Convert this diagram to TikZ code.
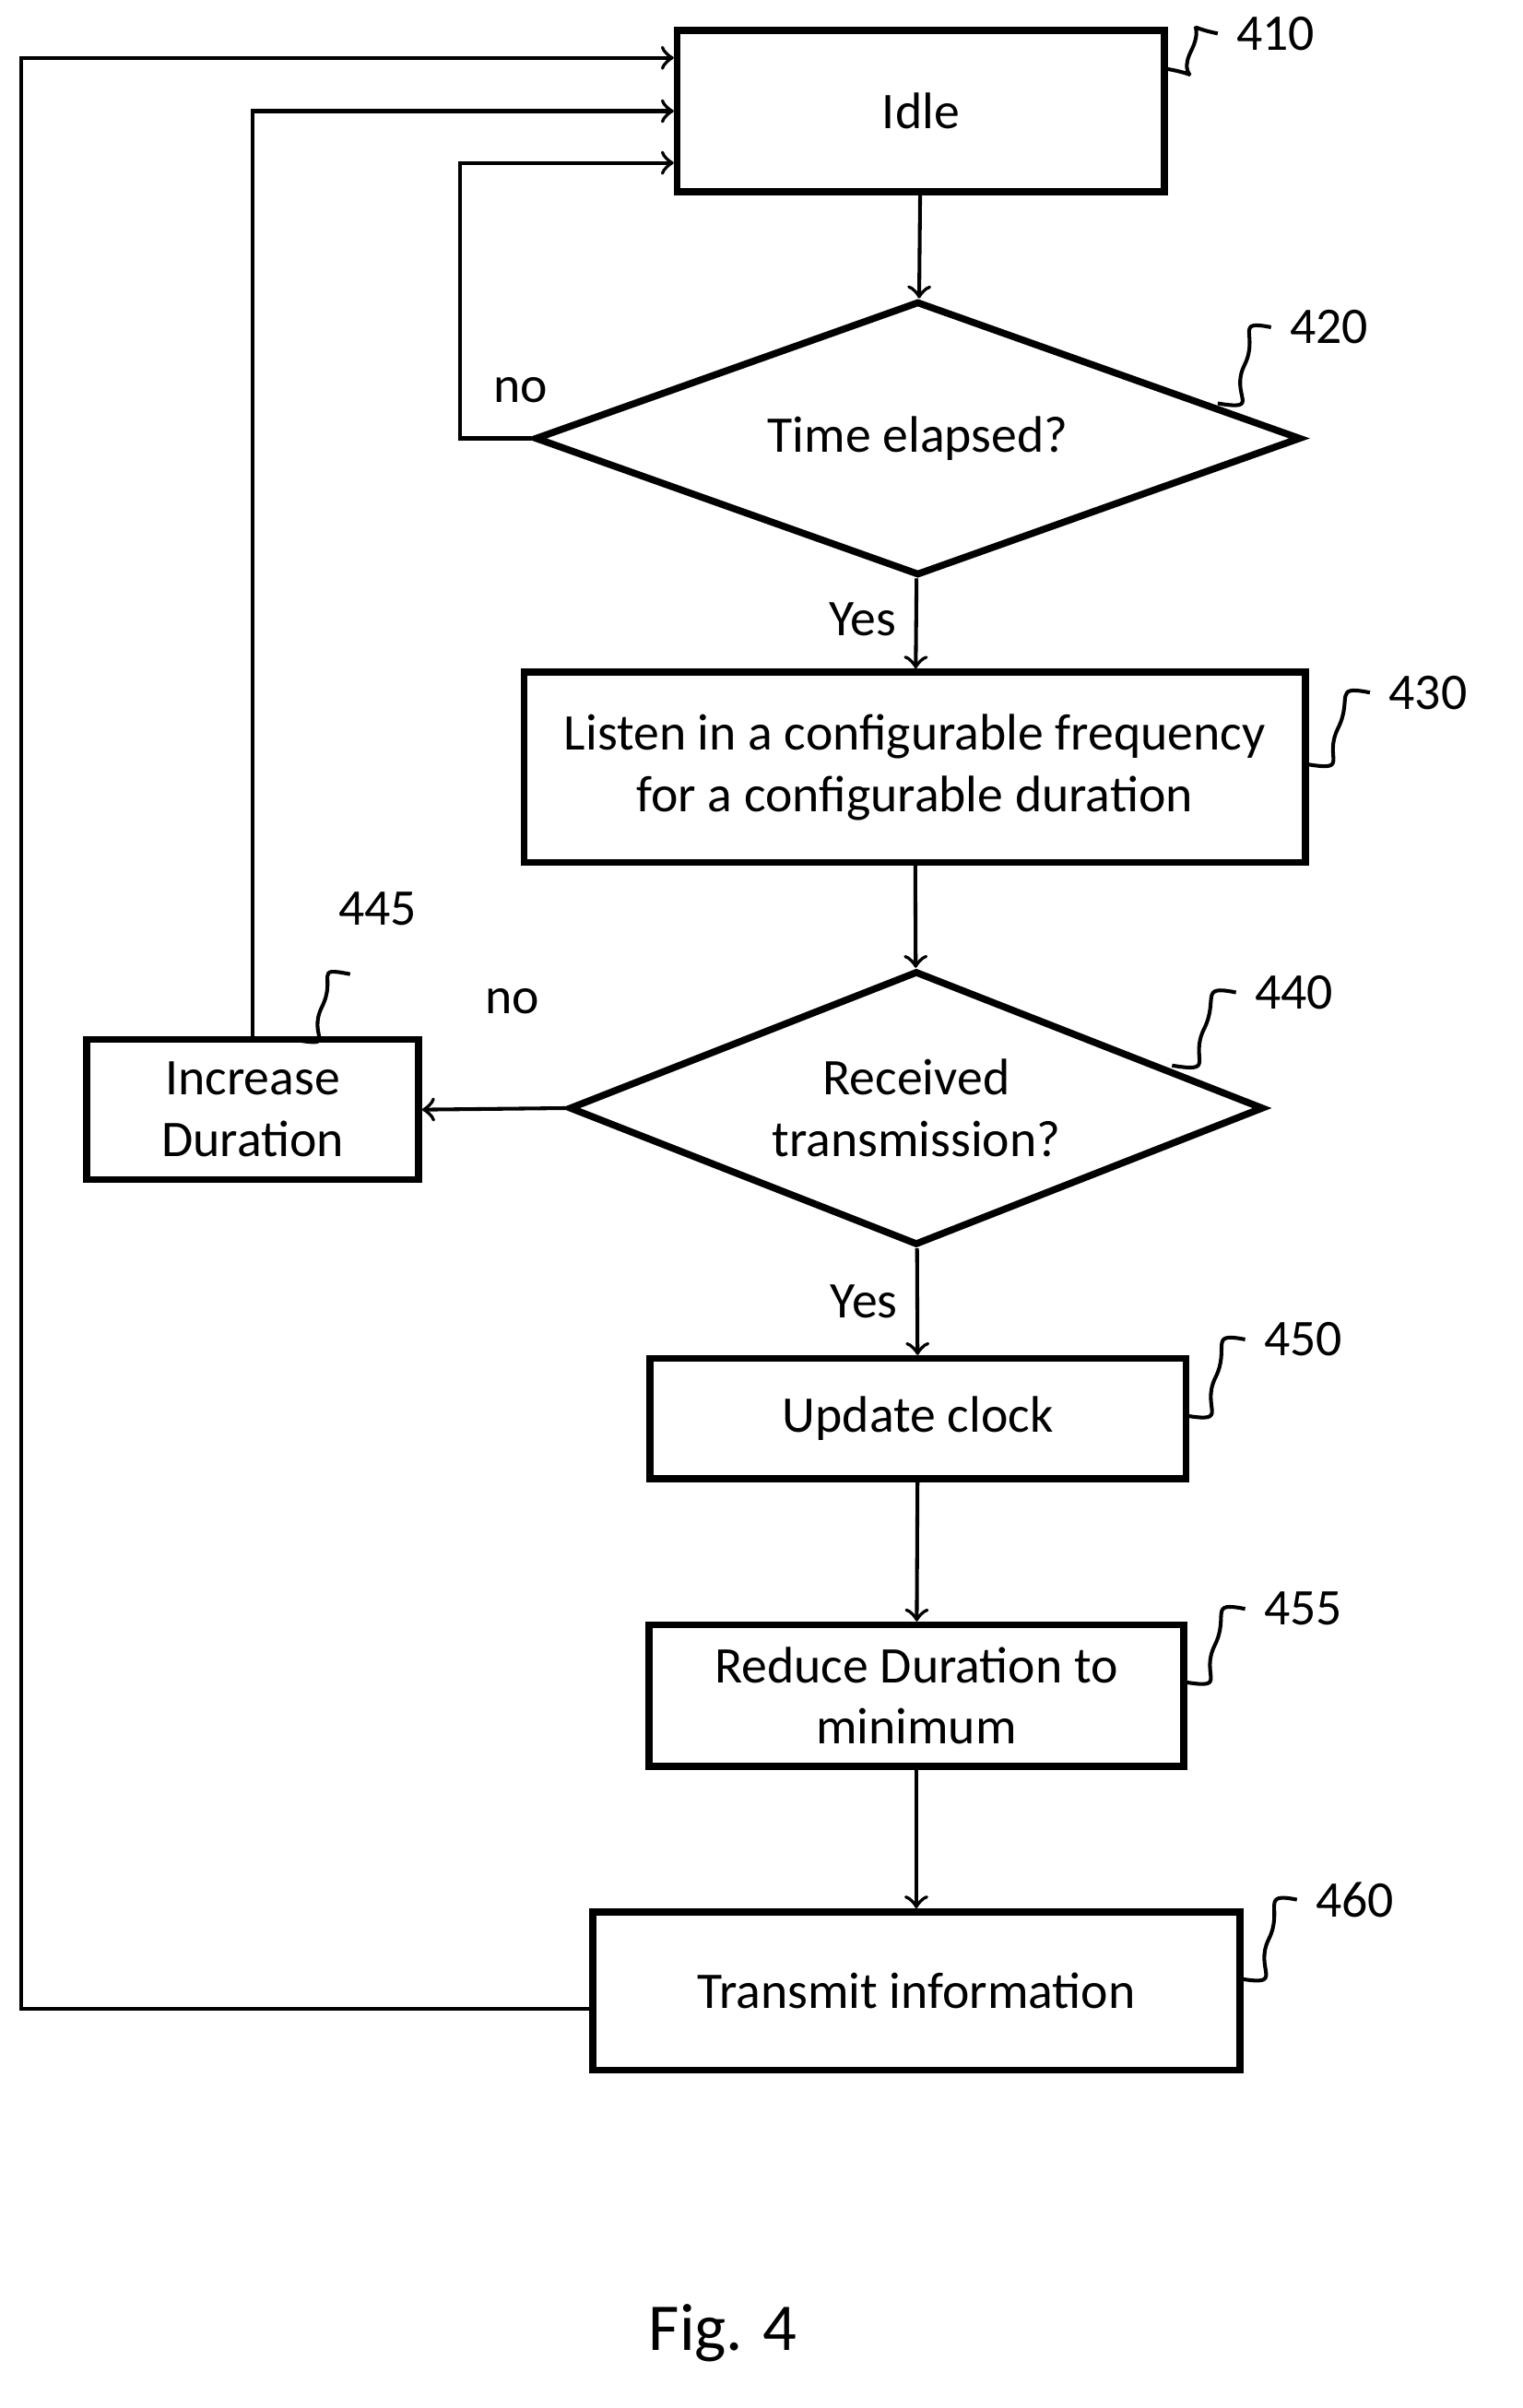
\documentclass[tikz,border=0pt]{standalone}
\usepackage{fontspec}
\setmainfont{Carlito}
\usetikzlibrary{arrows,shapes.geometric,positioning,calc}

\begin{document}
\begin{tikzpicture}[x=0.01cm,y=-0.01cm,>=to,font=\fontsize{9.6}{11.5}\selectfont,
  box/.style={draw,line width=1.3pt,align=center,inner sep=0pt},
  dec/.style={draw,diamond,aspect=2.8,line width=1.3pt,align=center,inner sep=0pt},
  line/.style={line width=0.7pt},
  tag/.style={line width=0.7pt}]

  \useasboundingbox (0,0) rectangle (1000,1582);

  \node[box,minimum width=3.2cm,minimum height=1.06cm]   (idle)   at (605,73)   {Idle};
  \node[dec,minimum width=5.03cm,minimum height=1.8cm]   (time)   at (603,288)  {Time elapsed?};
  \node[box,minimum width=5.13cm,minimum height=1.25cm]  (listen) at (601,504)  {Listen in a configurable frequency\\for a configurable duration};
  \node[dec,minimum width=4.56cm,minimum height=1.8cm]   (recv)   at (602,728)  {Received\\transmission?};
  \node[box,minimum width=2.18cm,minimum height=0.92cm]  (incr)   at (166,729)  {Increase\\Duration};
  \node[box,minimum width=3.52cm,minimum height=0.79cm]  (clock)  at (603,932)  {Update clock};
  \node[box,minimum width=3.51cm,minimum height=0.93cm]  (reduce) at (602,1114) {Reduce Duration to\\minimum};
  \node[box,minimum width=4.25cm,minimum height=1.04cm]  (trans)  at (602,1308) {Transmit information};
  \node[font=\fontsize{12.5}{15}\selectfont] (fig) at (475,1533) {Fig. 4};

  % flow
  \draw[line,->] (idle) -- (time);
  \draw[line,->] (time) -- node[left,pos=0.45] {Yes} (listen);
  \draw[line,->] (listen) -- (recv);
  \draw[line,->] (recv) -- node[left,pos=0.5] {Yes} (clock);
  \draw[line,->] (clock) -- (reduce);
  \draw[line,->] (reduce) -- (trans);
  \draw[line,->] (recv.west) -- node[above,pos=0.37,yshift=14pt] {no} (incr.east);

  % loops back to idle
  \coordinate (a) at (302,107);
  \coordinate (b) at (166,73);
  \coordinate (c) at (14,38);
  \draw[line,->] (time.west) -- node[above,pos=0.15,yshift=3pt] {no} (time.west -| a) |- (idle.west |- a);
  \draw[line,->] (incr.north) |- (idle.west |- b);
  \draw[line,->] (trans.west |- 0,1320) -| (c) -- (idle.west |- c);

  % reference tags
  \newcommand\tagline[3]{%
    \draw[tag] #1 .. controls +(30,5) and +(-10,20) .. ($#1!0.5!#2$) .. controls +(10,-20) and +(-25,-5) .. #2;
    \node[anchor=west] at #2 {#3};}
  \tagline{(765,45)}{(800,22)}{410}
  \tagline{(800,265)}{(835,215)}{420}
  \tagline{(858,502)}{(900,455)}{430}
  \tagline{(193,683)}{(230,640)}{}
  \node at (248,597) {445};
  \tagline{(770,700)}{(812,652)}{440}
  \tagline{(779,930)}{(818,880)}{450}
  \tagline{(778,1105)}{(818,1057)}{455}
  \tagline{(815,1300)}{(852,1248)}{460}
\end{tikzpicture}
\end{document}
